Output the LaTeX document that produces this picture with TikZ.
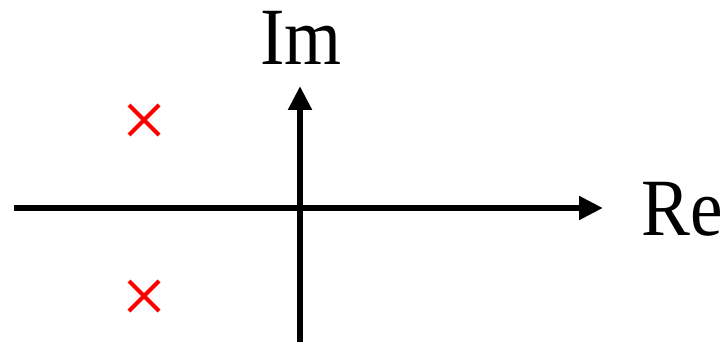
\documentclass[tikz,border=0pt]{standalone}
\usepackage{fontspec}
\setmainfont{Liberation Serif}
\usetikzlibrary{arrows.meta, positioning}
\definecolor{axisblack}{RGB}{0,0,0}
\definecolor{polered}{RGB}{255,0,0}
\tikzset{
  axis/.style={line width=4.5pt, color=axisblack,
    -{Triangle[length=18pt, width=17pt]}},
  axislbl/.style={font=\fontsize{61}{61}\selectfont, inner sep=0pt, xscale=0.9},
  pole/.style={line width=3pt, color=polered}
}
\begin{document}
\begin{tikzpicture}[x=0.75pt, y=-0.75pt]
\useasboundingbox (0,0) rectangle (723,342);
% axis ends
\coordinate (reL) at (14,208);
\coordinate (reR) at (603,208);
\coordinate (imB) at (300,342);
\coordinate (imT) at (300,86);
\draw[axis] (reL) -- (reR);
\draw[axis] (imB) -- (imT);
% axis labels
\node[axislbl, anchor=base] (imlbl) at (301,65) {Im};
\node[axislbl, anchor=base west] (relbl) at (641,235) {Re};
% poles
\foreach \name/\y in {p1/120, p2/296} {
  \coordinate (\name) at (144,\y);
  \draw[pole] ([shift={(-15,-15)}]\name) -- ([shift={(15,15)}]\name);
  \draw[pole] ([shift={(-15,15)}]\name) -- ([shift={(15,-15)}]\name);
}
\end{tikzpicture}
\end{document}
